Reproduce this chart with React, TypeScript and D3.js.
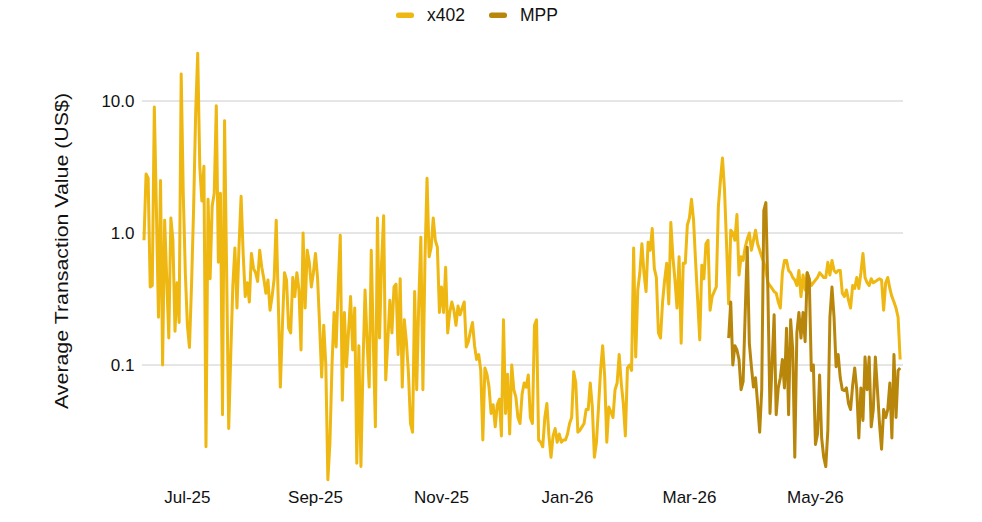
import React from "react";
import * as d3 from "d3";

// daily series, first value on 2025-06-10
const startDate = new Date(2025, 5, 10);

const x402Values: number[] = [
    0.88, 2.8, 2.6, 0.39, 0.40, 9.0, 1.5, 0.23, 2.5, 0.10,
    1.25, 0.45, 0.16, 1.3, 0.88, 0.18, 0.42, 0.21, 16, 2.0,
    0.5, 0.2, 0.136, 0.4, 1.5, 8, 23, 3.2, 1.75, 3.2,
    0.024, 1.8, 0.45, 1.6, 2.0, 9.2, 0.6, 2.0, 0.042, 7.1,
    0.5, 0.033, 0.12, 0.4, 0.77, 0.27, 0.8, 1.9, 0.7, 0.33,
    0.42, 0.30, 0.70, 0.54, 0.5, 0.43, 0.74, 0.55, 0.45, 0.35,
    0.44, 0.26, 0.33, 0.45, 1.25, 0.3, 0.068, 0.2, 0.50, 0.44,
    0.19, 0.175, 0.46, 0.33, 0.50, 0.37, 0.13, 1.0, 0.27, 0.74,
    0.60, 0.39, 0.5, 0.70, 0.46, 0.2, 0.081, 0.20, 0.10, 0.0135,
    0.026, 0.1, 0.25, 0.137, 0.4, 0.96, 0.054, 0.25, 0.097, 0.18,
    0.33, 0.13, 0.27, 0.018, 0.14, 0.017, 0.1, 0.37, 0.15, 0.068,
    0.74, 0.15, 0.034, 1.3, 0.16, 0.6, 1.35, 0.077, 0.15, 0.31,
    0.175, 0.39, 0.41, 0.12, 0.45, 0.068, 0.22, 0.15, 0.087, 0.036,
    0.031, 0.36, 0.065, 0.3, 0.93, 0.065, 0.63, 2.6, 0.66, 0.78,
    1.3, 0.88, 0.78, 0.25, 0.39, 0.25, 0.55, 0.175, 0.25, 0.3,
    0.26, 0.2, 0.28, 0.24, 0.27, 0.3, 0.137, 0.15, 0.18, 0.21,
    0.14, 0.11, 0.12, 0.091, 0.027, 0.095, 0.085, 0.068, 0.043, 0.05,
    0.034, 0.05, 0.055, 0.029, 0.22, 0.043, 0.085, 0.03, 0.10, 0.065,
    0.057, 0.04, 0.036, 0.06, 0.073, 0.068, 0.084, 0.04, 0.036, 0.20,
    0.22, 0.027, 0.026, 0.024, 0.04, 0.051, 0.029, 0.02, 0.029, 0.033,
    0.026, 0.03, 0.026, 0.027, 0.027, 0.03, 0.036, 0.04, 0.089, 0.073,
    0.031, 0.032, 0.034, 0.036, 0.046, 0.046, 0.073, 0.048, 0.02, 0.026,
    0.048, 0.091, 0.14, 0.081, 0.026, 0.048, 0.044, 0.04, 0.065, 0.073,
    0.12, 0.073, 0.051, 0.029, 0.095, 0.10, 0.091, 0.77, 0.115, 0.37,
    0.5, 0.83, 0.50, 0.36, 0.85, 0.74, 1.08, 0.54, 0.46, 0.175,
    0.16, 0.3, 0.44, 0.59, 0.29, 1.2, 0.66, 0.44, 0.27, 0.66,
    0.146, 0.59, 0.59, 1.15, 1.3, 1.8, 1.25, 0.6, 0.31, 0.155,
    0.57, 0.45, 0.83, 0.88, 0.26, 0.33, 0.36, 0.39, 1.57, 2.5,
    3.7, 2.1, 0.8, 0.29, 1.05, 1.0, 0.88, 1.38, 0.48, 0.66,
    0.62, 0.78, 0.9, 1.0, 0.74, 0.88, 1.05, 0.83, 0.74, 0.66,
    0.6, 0.52, 0.42, 0.40, 0.38, 0.36, 0.35, 0.3, 0.27, 0.5,
    0.62, 0.62, 0.52, 0.50, 0.46, 0.44, 0.40, 0.52, 0.33, 0.48,
    0.37, 0.5, 0.44, 0.40, 0.42, 0.44, 0.46, 0.50, 0.48, 0.46,
    0.46, 0.60, 0.48, 0.62, 0.52, 0.50, 0.52, 0.52, 0.35, 0.33,
    0.37, 0.31, 0.27, 0.40, 0.38, 0.46, 0.38, 0.50, 0.70, 0.46,
    0.42, 0.40, 0.45, 0.42, 0.43, 0.44, 0.45, 0.44, 0.26, 0.42,
    0.46, 0.38, 0.33, 0.30, 0.27, 0.23, 0.11,
];

// MPP starts 283 days after startDate
const mppOffset = 283;
const mppValues: number[] = [
    0.16, 0.30, 0.10, 0.14, 0.13, 0.11, 0.065,
    0.075, 0.25, 0.78, 0.146, 0.097, 0.068, 0.08, 0.051, 0.031, 0.065,
    1.48, 1.7, 0.35, 0.043, 0.1, 0.24, 0.042, 0.067, 0.08, 0.11,
    0.067, 0.19, 0.042, 0.22, 0.13, 0.02, 0.175, 0.25, 0.16, 0.25,
    0.15, 0.50, 0.45, 0.091, 0.1, 0.025, 0.03, 0.084, 0.028, 0.02,
    0.017, 0.032, 0.23, 0.39, 0.23, 0.097, 0.12, 0.08, 0.065, 0.064,
    0.067, 0.051, 0.046, 0.07, 0.095, 0.065, 0.028, 0.067, 0.038, 0.115,
    0.065, 0.115, 0.034, 0.046, 0.115, 0.065, 0.036, 0.023, 0.046, 0.04,
    0.046, 0.073, 0.028, 0.12, 0.04, 0.091, 0.095,
];

const seriesNames = ["x402", "MPP"];
const seriesColors = ["#EEB711", "#B8860B"];

const yTicks = [0.1, 1, 10];
const yTickLabels = ["0.1", "1.0", "10.0"];

const xTicks = [
    new Date(2025, 6, 1),
    new Date(2025, 8, 1),
    new Date(2025, 10, 1),
    new Date(2026, 0, 1),
    new Date(2026, 2, 1),
    new Date(2026, 4, 1),
];
const xTickFormat = d3.timeFormat("%b-%y");

const yTitle = "Average Transaction Value (US$)";

interface Point {
    date: Date;
    value: number;
}

const toPoints = (values: number[], offset: number): Point[] =>
    values.map((v, i) => ({ date: d3.timeDay.offset(startDate, offset + i), value: v }));

export default function App() {
    const width = 982;
    const height = 522;
    const font = "'Liberation Sans', Arial, sans-serif";

    const x402 = toPoints(x402Values, 0);
    const mpp = toPoints(mppValues, mppOffset);

    const endDate = x402[x402.length - 1].date;
    const dayCount = d3.timeDay.count(startDate, endDate);

    const xScale = d3.scaleTime()
        .domain([startDate, endDate])
        .range([144, 144 + dayCount * 2.066]);

    const yScale = d3.scaleLog()
        .domain([0.1, 10])
        .range([365, 101]);

    const line = d3.line<Point>()
        .x(d => xScale(d.date))
        .y(d => yScale(d.value));

    const series = [x402, mpp];

    const legendX = [396, 489];

    return (
        <svg
            width={width}
            height={height}
            style={{ position: "absolute", left: 0, top: 0, background: "#fff" }}
            fontFamily={font}
        >
            {/* gridlines */}
            {yTicks.map(t => (
                <line
                    key={t}
                    x1={142}
                    x2={903}
                    y1={yScale(t)}
                    y2={yScale(t)}
                    stroke="#cccccc"
                    strokeWidth={1}
                />
            ))}
            {yTicks.map((t, i) => (
                <text
                    key={t}
                    x={134.5}
                    y={yScale(t) + 6}
                    textAnchor="end"
                    fontSize={17}
                    fill="#111"
                >
                    {yTickLabels[i]}
                </text>
            ))}

            {xTicks.map(t => (
                <text
                    key={t.toISOString()}
                    x={xScale(t)}
                    y={503}
                    textAnchor="middle"
                    fontSize={17}
                    fill="#111"
                >
                    {xTickFormat(t)}
                </text>
            ))}

            <text
                transform="translate(68,251) rotate(-90)"
                textAnchor="middle"
                fontSize={17.5}
                fill="#111"
                textLength={316}
                lengthAdjust="spacingAndGlyphs"
            >
                {yTitle}
            </text>

            {/* lines */}
            {series.map((s, i) => (
                <path
                    key={seriesNames[i]}
                    d={line(s) || ""}
                    fill="none"
                    stroke={seriesColors[i]}
                    strokeWidth={3}
                    strokeLinejoin="round"
                />
            ))}

            {/* legend */}
            {seriesNames.map((name, i) => (
                <g key={name}>
                    <rect
                        x={legendX[i]}
                        y={12.5}
                        width={18}
                        height={5.5}
                        rx={2.5}
                        fill={seriesColors[i]}
                    />
                    <text x={legendX[i] + 31} y={20.7} fontSize={17.5} fill="#111">
                        {name}
                    </text>
                </g>
            ))}
        </svg>
    );
}
